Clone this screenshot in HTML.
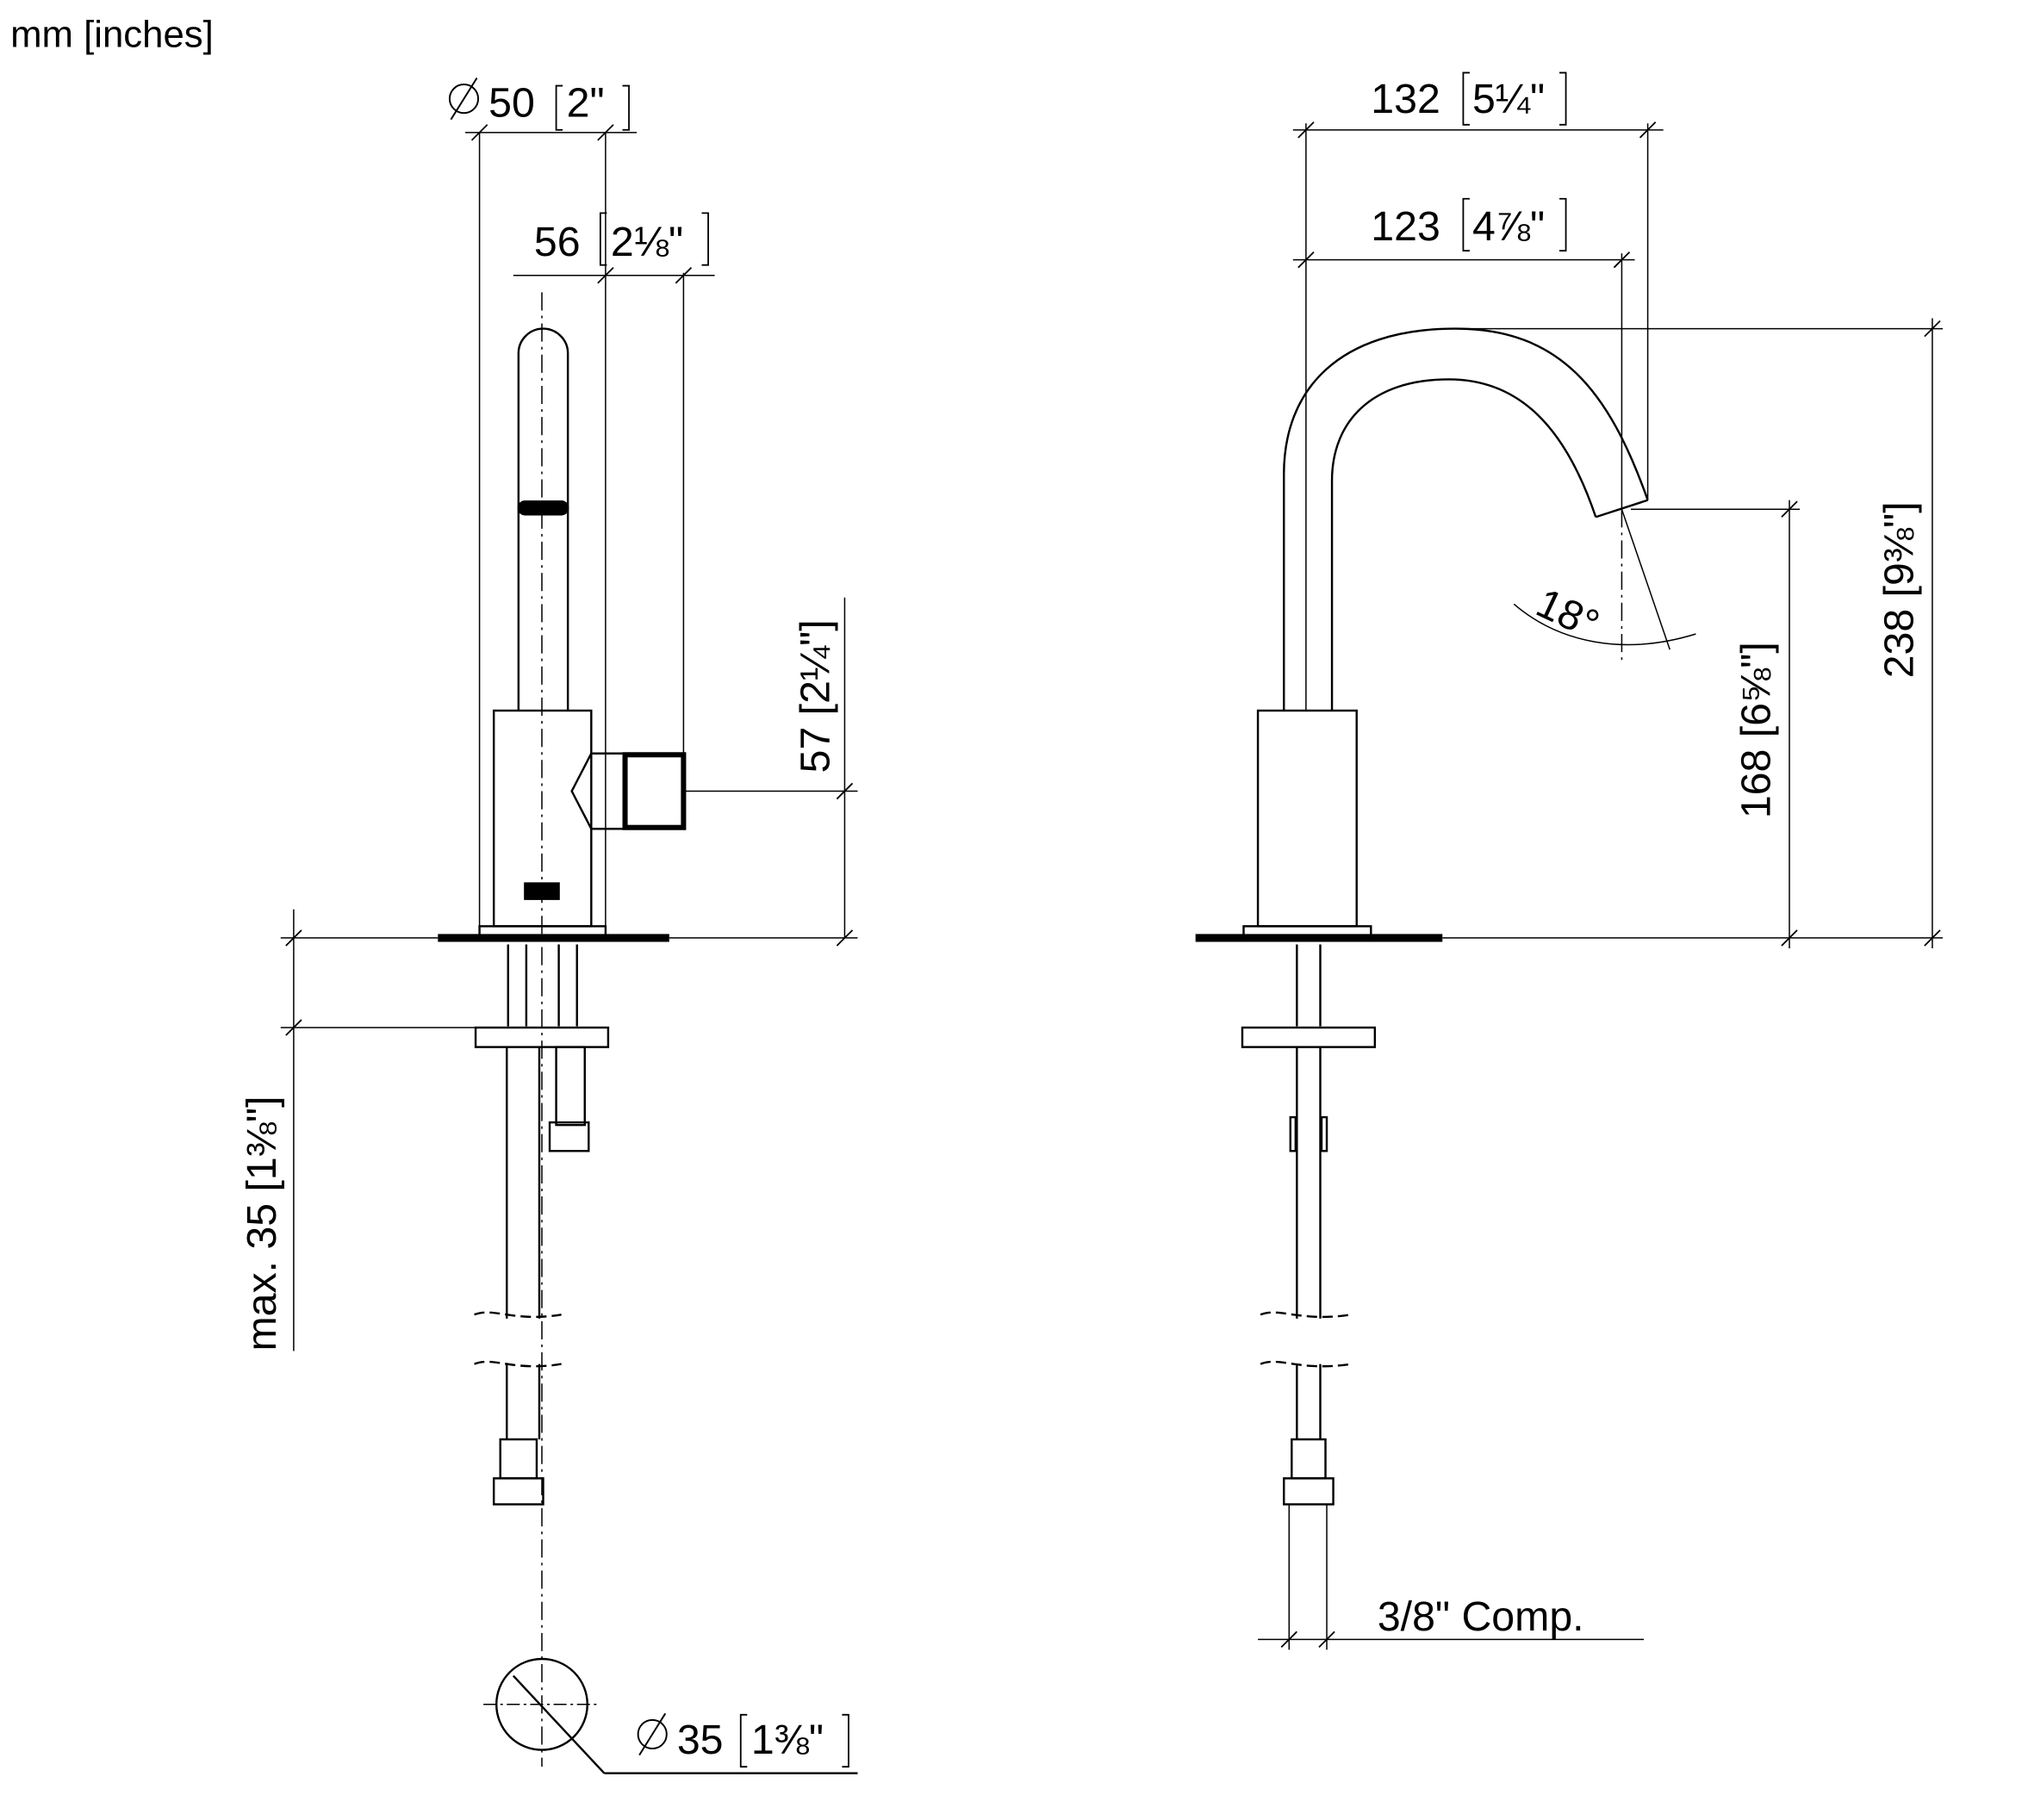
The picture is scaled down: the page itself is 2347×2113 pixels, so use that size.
<!DOCTYPE html>
<html><head><style>html,body{margin:0;padding:0;background:#fff}svg{display:block}</style></head>
<body>
<svg width="2347" height="2113" viewBox="0 0 1556 1401" preserveAspectRatio="none" xmlns="http://www.w3.org/2000/svg" font-family="Liberation Sans, sans-serif">
<g fill="none" stroke="#000" stroke-width="1.6">
<!-- LEFT VIEW -->
<line x1="417" y1="225" x2="417" y2="1360" stroke-dasharray="14,4,2,4" stroke-width="1"/>
<path d="M399,547 L399,272 A19,19 0 0 1 437,272 L437,547"/>
<rect x="399" y="386" width="38" height="10" rx="5" fill="#000"/>
<rect x="380" y="547" width="75" height="166"/>
<rect x="404" y="680" width="26" height="12" fill="#000"/>
<path d="M455,580 L480,580 L480,638 L455,638 L440,609 Z"/>
<rect x="481" y="581" width="45" height="56" stroke-width="4"/>
<rect x="369" y="713" width="97" height="8"/>
<line x1="337" y1="722" x2="515" y2="722" stroke-width="6"/>
<line x1="391" y1="727" x2="391" y2="790"/><line x1="405" y1="727" x2="405" y2="790"/>
<line x1="430" y1="727" x2="430" y2="790"/><line x1="444" y1="727" x2="444" y2="790"/>
<rect x="366" y="791" width="102" height="15"/>
<line x1="390" y1="806" x2="390" y2="1015"/><line x1="415" y1="806" x2="415" y2="1015"/>
<rect x="428" y="806" width="22" height="60"/>
<rect x="423" y="864" width="30" height="22"/>
<path d="M365,1012 C380,1006 395,1018 432,1012" stroke-dasharray="8,4"/>
<path d="M365,1050 C380,1044 395,1056 432,1050" stroke-dasharray="8,4"/>
<line x1="390" y1="1050" x2="390" y2="1108"/><line x1="415" y1="1050" x2="415" y2="1108"/>
<rect x="385" y="1108" width="28" height="30"/>
<rect x="380" y="1138" width="38" height="20"/>
<circle cx="417" cy="1312" r="35"/>
<line x1="372" y1="1312" x2="462" y2="1312" stroke-dasharray="10,3,2,3" stroke-width="1"/>
<line x1="395" y1="1290" x2="465" y2="1365"/><line x1="465" y1="1365" x2="660" y2="1365"/>
<!-- left dims -->
<line x1="369" y1="102" x2="369" y2="713" stroke-width="1"/><line x1="466" y1="102" x2="466" y2="713" stroke-width="1"/>
<line x1="358" y1="102" x2="490" y2="102" stroke-width="1"/>
<line x1="526" y1="210" x2="526" y2="580" stroke-width="1"/>
<line x1="395" y1="212" x2="550" y2="212" stroke-width="1"/>
<line x1="650" y1="460" x2="650" y2="722" stroke-width="1"/>
<line x1="527" y1="609" x2="660" y2="609" stroke-width="1"/>
<line x1="515" y1="722" x2="660" y2="722" stroke-width="1"/>
<line x1="226" y1="700" x2="226" y2="1040" stroke-width="1"/>
<line x1="216" y1="722" x2="337" y2="722" stroke-width="1"/>
<line x1="216" y1="791" x2="366" y2="791" stroke-width="1"/>
<g stroke-width="1.2">
<line x1="363" y1="108" x2="375" y2="96"/><line x1="460" y1="108" x2="472" y2="96"/>
<line x1="460" y1="218" x2="472" y2="206"/><line x1="520" y1="218" x2="532" y2="206"/>
<line x1="644" y1="615" x2="656" y2="603"/><line x1="644" y1="728" x2="656" y2="716"/>
<line x1="220" y1="728" x2="232" y2="716"/><line x1="220" y1="797" x2="232" y2="785"/>
</g>
<!-- RIGHT VIEW -->
<path d="M988,547 L988,365 C988,300 1030,253 1120,253 C1200,253 1238,300 1268,385"/>
<path d="M1025,547 L1025,370 C1025,325 1055,292 1115,292 C1170,292 1205,330 1228,398"/>
<line x1="1228" y1="398" x2="1268" y2="385"/>
<line x1="1248" y1="392" x2="1248" y2="510" stroke-dasharray="14,4,2,4" stroke-width="1"/>
<line x1="1248" y1="392" x2="1285" y2="500" stroke-width="1"/>
<path d="M1165,465 C1200,495 1250,505 1305,488" stroke-width="1"/>
<rect x="968" y="547" width="76" height="166"/>
<rect x="957" y="713" width="98" height="8"/>
<line x1="920" y1="722" x2="1110" y2="722" stroke-width="6"/>
<line x1="998" y1="727" x2="998" y2="790"/><line x1="1016" y1="727" x2="1016" y2="790"/>
<rect x="956" y="791" width="102" height="15"/>
<line x1="998" y1="806" x2="998" y2="1015"/><line x1="1016" y1="806" x2="1016" y2="1015"/>
<rect x="993" y="860" width="4" height="26"/><rect x="1017" y="860" width="4" height="26"/>
<path d="M970,1012 C985,1006 1000,1018 1040,1012" stroke-dasharray="8,4"/>
<path d="M970,1050 C985,1044 1000,1056 1040,1050" stroke-dasharray="8,4"/>
<line x1="998" y1="1050" x2="998" y2="1108"/><line x1="1016" y1="1050" x2="1016" y2="1108"/>
<rect x="994" y="1108" width="26" height="30"/>
<rect x="988" y="1138" width="38" height="20"/>
<!-- right dims -->
<line x1="1005" y1="95" x2="1005" y2="547" stroke-width="1"/>
<line x1="1268" y1="95" x2="1268" y2="385" stroke-width="1"/>
<line x1="1248" y1="195" x2="1248" y2="392" stroke-width="1"/>
<line x1="995" y1="100" x2="1280" y2="100" stroke-width="1"/>
<line x1="995" y1="200" x2="1258" y2="200" stroke-width="1"/>
<line x1="1120" y1="253" x2="1495" y2="253" stroke-width="1"/>
<line x1="1255" y1="392" x2="1385" y2="392" stroke-width="1"/>
<line x1="1110" y1="722" x2="1495" y2="722" stroke-width="1"/>
<line x1="1377" y1="385" x2="1377" y2="730" stroke-width="1"/>
<line x1="1487" y1="245" x2="1487" y2="730" stroke-width="1"/>
<line x1="992" y1="1158" x2="992" y2="1270" stroke-width="1"/><line x1="1021" y1="1158" x2="1021" y2="1270" stroke-width="1"/>
<line x1="968" y1="1262" x2="1265" y2="1262" stroke-width="1"/>
<g stroke-width="1.2">
<line x1="999" y1="106" x2="1011" y2="94"/><line x1="1262" y1="106" x2="1274" y2="94"/>
<line x1="999" y1="206" x2="1011" y2="194"/><line x1="1242" y1="206" x2="1254" y2="194"/>
<line x1="1371" y1="398" x2="1383" y2="386"/><line x1="1371" y1="728" x2="1383" y2="716"/>
<line x1="1481" y1="259" x2="1493" y2="247"/><line x1="1481" y1="728" x2="1493" y2="716"/>
<line x1="986" y1="1268" x2="998" y2="1256"/><line x1="1015" y1="1268" x2="1027" y2="1256"/>
</g>
<!-- brackets -->
<path d="M433,66 h-5 v34 h5 M479,66 h5 v34 h-5" stroke-width="1.2"/>
<path d="M467,164 h-5 v40 h5 M540,164 h5 v40 h-5" stroke-width="1.2"/>
<path d="M1131,56 h-5 v40 h5 M1200,56 h5 v40 h-5" stroke-width="1.2"/>
<path d="M1131,153 h-5 v40 h5 M1200,153 h5 v40 h-5" stroke-width="1.2"/>
<path d="M575,1320 h-5 v40 h5 M648,1320 h5 v40 h-5" stroke-width="1.2"/>
<circle cx="357" cy="76" r="11" stroke-width="1.3"/><line x1="347" y1="92" x2="367" y2="60" stroke-width="1.3"/>
<circle cx="502" cy="1335" r="11" stroke-width="1.3"/><line x1="492" y1="1351" x2="512" y2="1319" stroke-width="1.3"/>
</g>
<g font-size="32" fill="#000">
<text x="8" y="36" font-size="29">mm [inches]</text>
<text x="376" y="90">50</text><text x="436" y="90">2"</text>
<text x="411" y="197">56</text><text x="470" y="197">2⅛"</text>
<text x="1055" y="87">132</text><text x="1133" y="87">5¼"</text>
<text x="1055" y="185">123</text><text x="1133" y="185">4⅞"</text>
<text x="521" y="1350">35</text><text x="578" y="1350">1⅜"</text>
<text x="1060" y="1255">3/8" Comp.</text>
<text x="1180" y="472" transform="rotate(25 1180 472)">18°</text>
<text transform="translate(638,595) rotate(-90)">57 [2¼"]</text>
<text transform="translate(212,1040) rotate(-90)">max. 35 [1⅜"]</text>
<text transform="translate(1362,630) rotate(-90)">168 [6⅝"]</text>
<text transform="translate(1472,522) rotate(-90)">238 [9⅜"]</text>
</g>
</svg>
</body></html>
